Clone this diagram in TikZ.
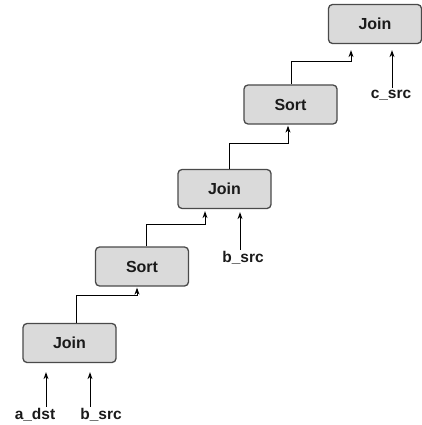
\documentclass[tikz,border=0pt]{standalone}
\usepackage{fontspec}
\setmainfont{Liberation Sans}
\usepackage{tikz}
\usetikzlibrary{positioning,arrows.meta,calc}
\definecolor{cBox}{HTML}{DADADA}
\definecolor{cEdge}{HTML}{4A4A4A}
\definecolor{cText}{HTML}{1A1A1A}

\begin{document}
\begin{tikzpicture}[x=1pt,y=-1pt,
      op/.style={draw=cEdge,fill=cBox,line width=1.3pt,rounded corners=4pt,
        minimum width=93pt,minimum height=39pt,inner sep=0pt,
        font=\fontsize{16}{19}\selectfont\bfseries,text=cText},
      src/.style={font=\fontsize{15.5}{18}\selectfont\bfseries,text=cText,inner sep=1.5pt},
      arr/.style={-{Stealth[length=7pt,width=5pt]},line width=1pt,black}]
    \useasboundingbox (0,0) rectangle (422,425);
    % operators
    \node[op] (j1) at (69.5,343) {Join};
    \node[op] (s2) at (142,266.5) {Sort};
    \node[op] (j3) at (224.5,189) {Join};
    \node[op] (s4) at (290.5,104.5) {Sort};
    \node[op] (j5) at (375,24) {Join};
    % sources
    \node[src] (adst) at (35,415) {a\_dst};
    \node[src] (bsrc) at (101,415) {b\_src};
    \node[src] (bsrcb) at (243,258) {b\_src};
    \node[src] (csrc) at (391,95) {c\_src};
    \draw[arr,shorten >=9pt] ([xshift=11]adst.north) -- ([xshift=11]adst.north |- j1.south);
    \draw[arr,shorten >=9pt] ([xshift=-11]bsrc.north) -- ([xshift=-11]bsrc.north |- j1.south);
    \draw[arr,shorten >=3pt] ([xshift=-3]bsrcb.north) -- ([xshift=-3]bsrcb.north |- j3.south);
    \draw[arr,shorten >=6pt] ([xshift=1]csrc.north) -- ([xshift=1]csrc.north |- j5.south);
    % pipeline
    \draw[arr,shorten >=1pt] ([xshift=7]j1.north) -- ++(0,-27.5) -| ([xshift=-5]s2.south);
    \draw[arr,shorten >=2pt] ([xshift=4]s2.north) -- ++(0,-21.5) -| ([xshift=-19.5]j3.south);
    \draw[arr,shorten >=1pt] ([xshift=4.5]j3.north) -- ++(0,-25.5) -| ([xshift=-2.5]s4.south);
    \draw[arr,shorten >=6pt] ([xshift=0.5]s4.north) -- ++(0,-22.5) -| ([xshift=-24]j5.south);
  \end{tikzpicture}
\end{document}
